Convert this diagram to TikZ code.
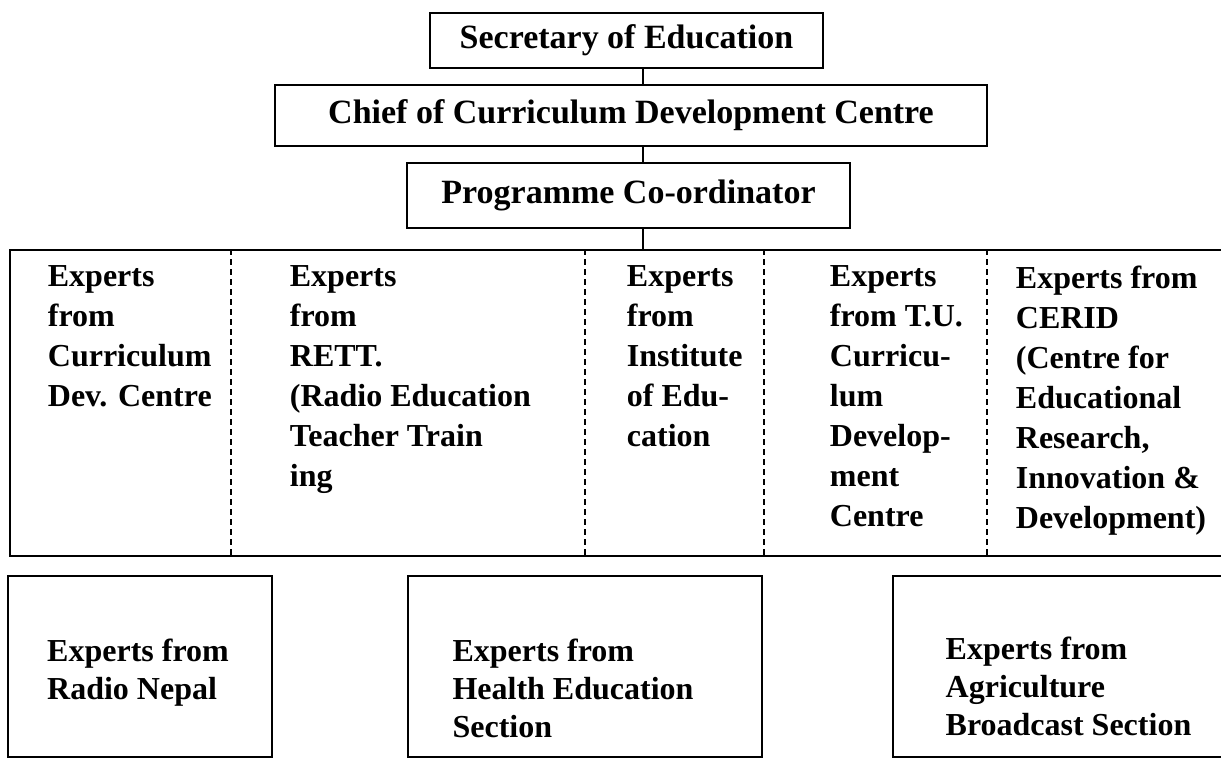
\documentclass[tikz,border=0pt]{standalone}
\usepackage{fontspec}
\setmainfont{Liberation Serif}
\usetikzlibrary{positioning}

\begin{document}
\begin{tikzpicture}[x=0.5pt,y=-0.5pt,line width=0.9pt,
  head/.style={draw,inner sep=0pt,font=\bfseries\fontsize{17}{20}\selectfont},
  panel/.style={draw,inner sep=0pt,minimum width=615pt,minimum height=153pt},
  unit/.style={draw,inner sep=0pt,minimum height=90.5pt},
  col/.style={anchor=north west,inner sep=0pt,align=left,font=\bfseries\fontsize{16}{20}\selectfont},
  note/.style={inner sep=0pt,align=left,font=\bfseries\fontsize{16}{19}\selectfont},
  divider/.style={line width=1pt,dash pattern=on 3pt off 2pt}]
\path[use as bounding box,clip] (0,0) rectangle (1221,759);

% chain of command
\node[head,minimum width=196.5pt,minimum height=27.5pt] (sec) at (626.5,40.5) {Secretary of Education};
\node[head,minimum width=356pt,minimum height=30.5pt] (chief) at (631,115.5) {Chief of Curriculum Development Centre};
\node[head,minimum width=221.5pt,minimum height=32.5pt] (coord) at (628.5,195.5) {Programme Co-ordinator};
\node[panel] (experts) at (625,403) {};
\coordinate (spine) at (643,0);
\draw (sec.south -| spine) -- (chief.north -| spine);
\draw (chief.south -| spine) -- (coord.north -| spine);
\draw (coord.south -| spine) -- (experts.north -| spine);

% columns of the expert panel
\foreach \x in {231,585,764,987}
  \draw[divider] (\x,0 |- experts.north) -- (\x,0 |- experts.south);
\node[col] (cdc) at (47,265) {Experts\\from\\Curriculum\\Dev. Centre};
\node[col] (rett) at (289,265) {Experts\\from\\RETT.\\(Radio Education\\Teacher Train\\ing};
\node[col] (ioe) at (626,265) {Experts\\from\\Institute\\of Edu-\\cation};
\node[col] (tu) at (829,265) {Experts\\from T.U.\\Curricu-\\lum\\Develop-\\ment\\Centre};
\node[col] (cerid) at (1015,265) {Experts from\\CERID\\(Centre for\\Educational\\Research,\\Innovation \&\\Development)};

% outside sections
\node[unit,minimum width=132pt] (nepal) at (140,666.5) {};
\node[unit,minimum width=177pt] (health) at (585,666.5) {};
\node[unit,minimum width=173.5pt] (agri) at (1066.5,666.5) {};
\node[note] (nepaltxt) at ([xshift=-1pt,yshift=-3pt]nepal) {Experts from\\Radio Nepal};
\node[note] (healthtxt) at ([xshift=-6pt,yshift=-11pt]health) {Experts from\\Health Education\\Section};
\node[note] (agritxt) at ([xshift=1pt,yshift=-10pt]agri) {Experts from\\Agriculture\\Broadcast Section};
\end{tikzpicture}
\end{document}
